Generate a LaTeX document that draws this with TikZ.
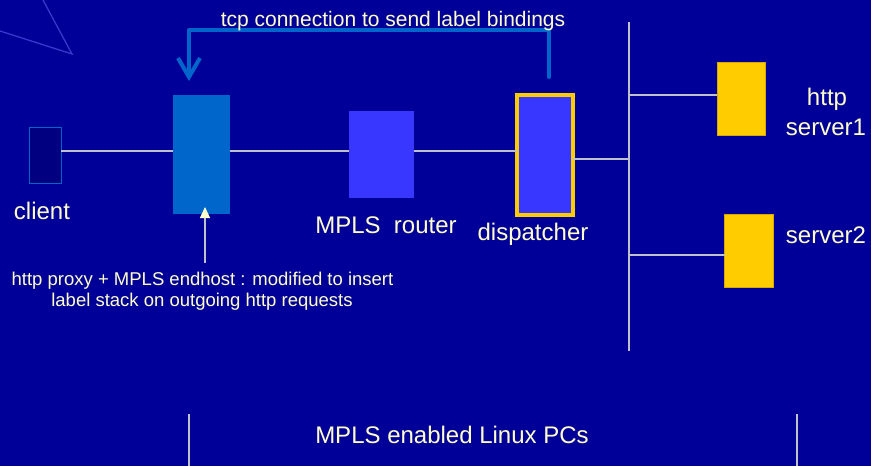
\documentclass[tikz,border=0pt]{standalone}
\usepackage{fontspec}
\setmainfont{Liberation Sans}
\usetikzlibrary{arrows.meta,calc}
\definecolor{bg}{HTML}{000099}
\definecolor{cream}{HTML}{FFFFCC}
\definecolor{wire}{HTML}{C0C0C8}
\definecolor{deco}{HTML}{3838CC}
\definecolor{clientfill}{HTML}{000080}
\definecolor{proxyfill}{HTML}{0066CC}
\definecolor{routerfill}{HTML}{3737FF}
\definecolor{gold}{HTML}{FFCC00}
\definecolor{golddark}{HTML}{D9A800}
\tikzset{
  box/.style={rectangle, inner sep=0pt, outer sep=0pt, anchor=north west},
  wireline/.style={draw=wire, line width=1.3pt},
  lbl/.style={text=cream, inner sep=0pt, anchor=base, font=\fontsize{24}{28}\selectfont},
  tcparrow/.style={draw=proxyfill, line width=4pt, line cap=round, line join=round,
    -{Straight Barb[length=19pt,width=22pt]}},
  notearrow/.style={draw=wire, line width=1.3pt, -{Triangle[length=11pt,width=10pt,color=cream]}},
}
\begin{document}
\begin{tikzpicture}[x=1pt,y=-1pt]
\fill[bg] (0,0) rectangle (871,466);
\useasboundingbox (0,0) rectangle (871,466);

% decorative corner lines
\draw[deco, line width=1.3pt] (0,31) -- (72,54) -- (43,0);

% nodes
\node[box, fill=clientfill, draw=proxyfill, line width=1pt, minimum width=32pt, minimum height=56pt] (client) at (29,127) {};
\node[box, fill=proxyfill, minimum width=57pt, minimum height=119pt] (proxy) at (173,95) {};
\node[box, fill=routerfill, minimum width=65pt, minimum height=87pt] (router) at (349,111) {};
\node[box, fill=routerfill, draw=gold, line width=4pt, minimum width=56pt, minimum height=120pt] (disp) at (517,95) {};
\node[box, fill=gold, draw=golddark, line width=0.8pt, minimum width=48pt, minimum height=73pt] (srv1) at (717,62) {};
\node[box, fill=gold, draw=golddark, line width=0.8pt, minimum width=49pt, minimum height=73pt] (srv2) at (724.5,214.5) {};

% helper coordinates
\coordinate (lan) at (0,151);
\coordinate (dline) at (0,159);
\coordinate (bustop) at (629,22);
\coordinate (busbot) at (629,351);
\coordinate (b1) at (0,95);
\coordinate (b2) at (0,255);

% wires
\draw[wireline] (client.east |- lan) -- (proxy.west |- lan);
\draw[wireline] (proxy.east |- lan) -- (router.west |- lan);
\draw[wireline] (router.east |- lan) -- (disp.west |- lan);
\draw[wireline] (disp.east |- dline) -- (bustop |- dline);
\draw[wireline] (bustop) -- (busbot);
\draw[wireline] (bustop |- b1) -- (srv1.west |- b1);
\draw[wireline] (bustop |- b2) -- (srv2.west |- b2);

% tcp connection arrow
\coordinate (tcpstart) at (549,77);
\coordinate (tcpend) at (189,81);
\draw[tcparrow] (tcpstart) -- ++(0,-47) -| (tcpend);
\node[lbl, font=\fontsize{21}{25}\selectfont] (tcplbl) at (393,26) {tcp connection to send label bindings};

% note arrow
\coordinate (noteptr) at (205,263);
\draw[notearrow] (noteptr) -- ++(0,-56);

% labels
\node[lbl] (clientlbl) at (42,219) {client};
\node[lbl] (routerlbl) at (386,233) {MPLS\ \ router};
\node[lbl] (displbl) at (533,240) {dispatcher};
\node[lbl] (s1a) at (827,105) {http};
\node[lbl] (s1b) at (826,135) {server1};
\node[lbl] (s2lbl) at (826,243) {server2};
\node[lbl, font=\fontsize{18.5}{21}\selectfont] (note1) at (202.5,285.7) {http proxy + MPLS endhost : modified to insert};
\node[lbl, font=\fontsize{18.5}{21}\selectfont] (note2) at (202,306.7) {label stack on outgoing http requests};

% bottom
\coordinate (lt) at (189,414);
\coordinate (rt) at (797,414);
\draw[wireline] (lt) -- (lt |- 0,466);
\draw[wireline] (rt) -- (rt |- 0,466);
\node[lbl] (pcs) at (452,443) {MPLS enabled Linux PCs};
\end{tikzpicture}
\end{document}
